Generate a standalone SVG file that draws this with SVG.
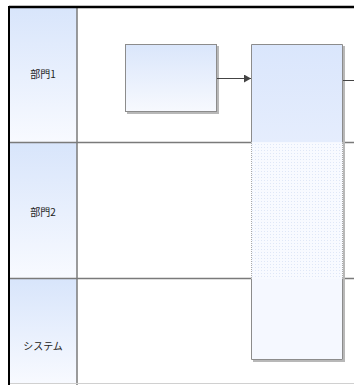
<svg xmlns="http://www.w3.org/2000/svg" width="354" height="385" viewBox="0 0 354 385">
<style>
.lane{stroke:#7a7a7a;stroke-width:1.5;fill:none}
.hdr{fill:url(#hg);stroke:none}
.lbl{font-family:"Noto Sans CJK JP","Liberation Sans",sans-serif;font-size:10px;fill:#222;text-anchor:middle}
.box{stroke:#8c8c8c;stroke-width:1}
.shadow{fill:#b8b8b8}
.conn{stroke:#444;stroke-width:1;fill:none}
</style>
<defs>
<linearGradient id="hg" x1="0" y1="0" x2="0" y2="1">
<stop offset="0" stop-color="#d8e5fb"/>
<stop offset="1" stop-color="#f8faff"/>
</linearGradient>
<linearGradient id="bg1" x1="0" y1="0" x2="0" y2="1">
<stop offset="0" stop-color="#dae6fb"/>
<stop offset="1" stop-color="#f7f9fe"/>
</linearGradient>
<linearGradient id="bg2" x1="0" y1="0" x2="0" y2="1">
<stop offset="0" stop-color="#dae6fc"/>
<stop offset="1" stop-color="#e5edfd"/>
</linearGradient>
<pattern id="dots" width="3" height="3" patternUnits="userSpaceOnUse">
<rect width="3" height="3" fill="#f8faff"/>
<rect width="1" height="1" fill="#dfe7f7"/>
</pattern>
<marker id="arr" markerWidth="8" markerHeight="8" refX="7" refY="4" orient="auto" markerUnits="userSpaceOnUse">
<path d="M0,0 L7,4 L0,8 Z" fill="#444"/>
</marker>
</defs>
<rect width="354" height="385" fill="#fff"/>
<g id="lane1">
<rect class="hdr" x="10" y="7" width="67" height="135"/>
<text class="lbl" x="43" y="78">部門1</text>
</g>
<g id="lane2">
<rect class="hdr" x="10" y="143" width="67" height="135"/>
<text class="lbl" x="43" y="216">部門2</text>
</g>
<g id="lane3">
<rect class="hdr" x="10" y="279" width="67" height="105"/>
<text class="lbl" x="43" y="350">システム</text>
</g>
<g id="grid">
<line class="lane" x1="77" y1="7" x2="77" y2="385"/>
<line class="lane" x1="9" y1="142.5" x2="354" y2="142.5"/>
<line class="lane" x1="9" y1="278.5" x2="354" y2="278.5"/>
<line x1="9" y1="383.5" x2="354" y2="383.5" stroke="#d0d0d0" stroke-width="1"/>
<line x1="9" y1="7" x2="354" y2="7" stroke="#000" stroke-width="2.5"/>
<line x1="9" y1="6" x2="9" y2="385" stroke="#000" stroke-width="2"/>
</g>
<g id="task1">
<rect class="shadow" x="127" y="46" width="92" height="68"/>
<rect class="box" x="125.5" y="44.5" width="91" height="67" fill="url(#bg1)"/>
</g>
<g id="task2">
<rect class="shadow" x="253" y="46" width="92" height="316"/>
<rect x="251" y="44" width="92" height="316" fill="#fff"/>
<rect x="251.5" y="44.5" width="91" height="98" fill="url(#bg2)"/>
<rect x="251.5" y="142.5" width="91" height="136" fill="url(#dots)"/>
<rect x="251.5" y="278.5" width="91" height="81" fill="#f5f8ff"/>
<path d="M251.5,142.5 V44.5 H342.5 V142.5" fill="none" stroke="#8c8c8c"/>
<path d="M251.5,278.5 V359.5 H342.5 V278.5" fill="none" stroke="#8c8c8c"/>
<line x1="251.5" y1="143" x2="251.5" y2="278" stroke="#aaa" stroke-dasharray="1,1"/>
<line x1="342.5" y1="143" x2="342.5" y2="278" stroke="#aaa" stroke-dasharray="1,1"/>
</g>
<g id="connectors">
<line class="conn" x1="217" y1="78.5" x2="251" y2="78.5" marker-end="url(#arr)"/>
<line class="conn" x1="343" y1="80.5" x2="354" y2="80.5"/>
</g>
</svg>
